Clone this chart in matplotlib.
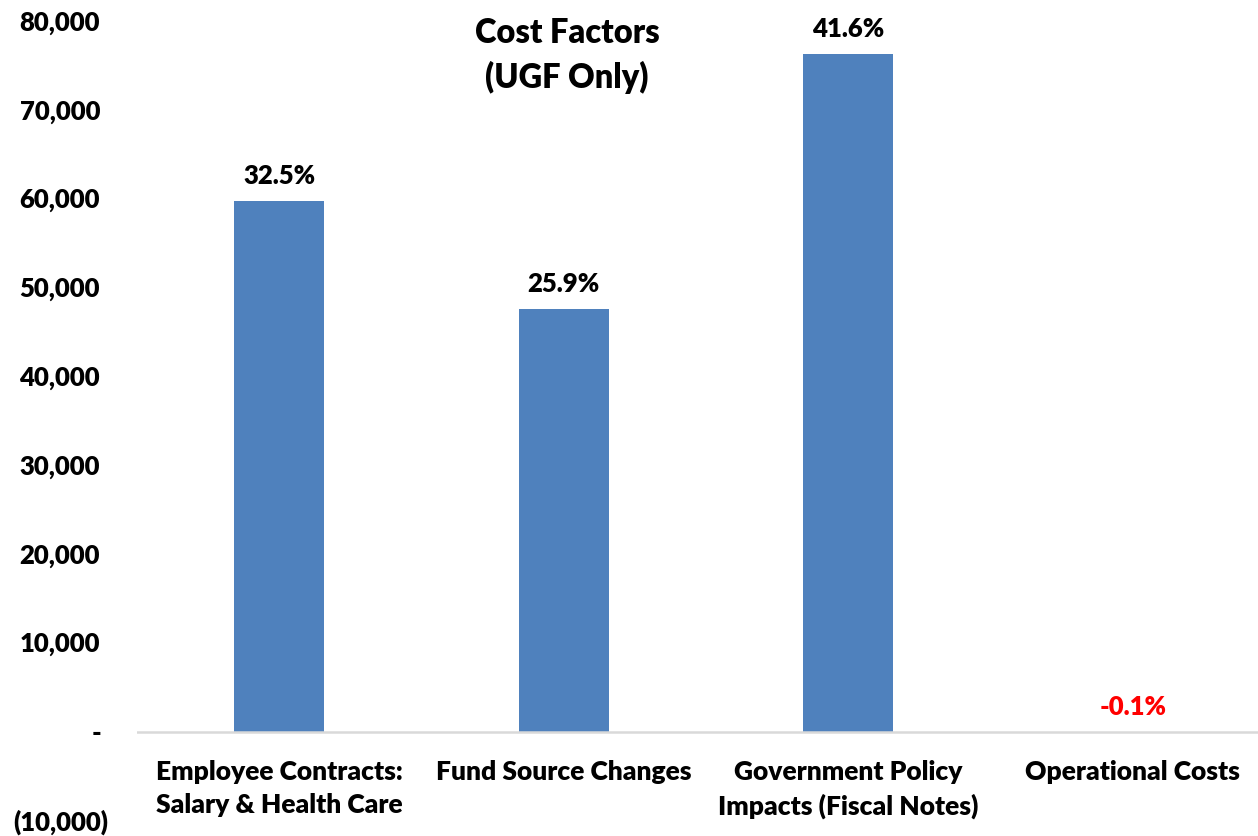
import matplotlib.pyplot as plt

# datos
categorias = ["Employee Contracts:\nSalary & Health Care", "Fund Source Changes",
              "Government Policy\nImpacts (Fiscal Notes)", "Operational Costs"]
valores = [59800, 47650, 76400, -150]
porcentajes = ["32.5%", "25.9%", "41.6%", "-0.1%"]
colores_pct = ["black", "black", "black", "red"]
ticks_y = [-10000, 0, 10000, 20000, 30000, 40000, 50000, 60000, 70000, 80000]
etiquetas_y = ["(10,000)", "-", "10,000", "20,000", "30,000", "40,000",
               "50,000", "60,000", "70,000", "80,000"]

plt.rcParams['font.family'] = ['Lato', 'DejaVu Sans']
peso = 'heavy'

fig = plt.figure(figsize=(12.58, 8.37), dpi=100)
ax = fig.add_axes([0.109, 0.018, 0.891, 0.9546])

x = list(range(len(categorias)))
ax.bar(x, valores, width=0.316, color='#4F81BD', zorder=2)

ax.set_xlim(-0.5, 3.44)
ax.set_ylim(-10000, 80000)
ax.set_yticks(ticks_y)
ax.set_yticklabels([])
ax.tick_params(axis='y', length=0)
ax.set_xticks([])

for s in ['top', 'right', 'left', 'bottom']:
    ax.spines[s].set_visible(False)
ax.axhline(0, color='#D9D9D9', linewidth=1.8, zorder=3)

# etiquetas del eje y con formato contable (parentesis colgando a la derecha)
for t, lab in zip(ticks_y, etiquetas_y):
    if lab.startswith("("):
        dx = -29
    elif lab == "-":
        dx = -36
    else:
        dx = -37
    ax.annotate(lab, xy=(0, t), xycoords=ax.get_yaxis_transform(),
                xytext=(dx * 0.72, 0), textcoords='offset points',
                ha='right', va='center', fontsize=18.5, fontweight=peso,
                annotation_clip=False)

# etiquetas de categorias debajo de la linea cero
for i, cat in enumerate(categorias):
    ax.annotate(cat, xy=(i, 0), xytext=(0, -19), textcoords='offset points',
                ha='center', va='top', fontsize=19, fontweight=peso,
                linespacing=1.45)

# porcentajes sobre las barras
for i, (v, p, c) in enumerate(zip(valores, porcentajes, colores_pct)):
    ax.annotate(p, xy=(i, max(v, 0)), xytext=(0, 10), textcoords='offset points',
                ha='center', va='bottom', fontsize=18.5, fontweight=peso, color=c)

# titulo
ax.text(0.3836, 1.008, "Cost Factors\n(UGF Only)", transform=ax.transAxes,
        ha='center', va='top', fontsize=23.5, fontweight=peso, linespacing=1.45)

fig.savefig("out.png", dpi=100)
